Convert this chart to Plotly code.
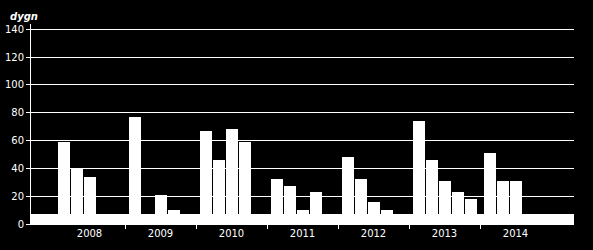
import plotly.graph_objects as go

# ---- data ----
years = [2008, 2009, 2010, 2011, 2012, 2013, 2014]
# values per year, up to 5 periods per year (None = no bar)
values = [
    [59, 40, 34, None, None],
    [77, None, 21, 10, None],
    [67, 46, 68, 59, None],
    [32, 27, 10, 23, None],
    [48, 32, 16, 10, None],
    [74, 46, 31, 23, 18],
    [51, 31, 31, None, None],
]
baseline = 7
y_ticks = [0, 20, 40, 60, 80, 100, 120, 140]

# ---- layout constants (pixels per year slot) ----
YEAR_PX = 71.0
SLOT_PX = 13.0
BAR_PX = 12.0
FIRST_OFF_PX = 10.0
PAD = 23.0 / YEAR_PX
x0 = years[0] - PAD
x1 = years[-1] + 1 + PAD

xs, ys = [], []
for yr, vals in zip(years, values):
    for k, v in enumerate(vals):
        if v is None:
            continue
        xs.append(yr + (FIRST_OFF_PX + SLOT_PX * k) / YEAR_PX)
        ys.append(v)

fig = go.Figure()
fig.add_trace(go.Bar(x=[(x0 + x1) / 2], y=[baseline], width=[x1 - x0],
                     marker=dict(color="white", line=dict(width=0)),
                     hoverinfo="skip", showlegend=False))
fig.add_trace(go.Bar(x=xs, y=ys, width=[BAR_PX / YEAR_PX] * len(xs),
                     marker=dict(color="white", line=dict(width=0)),
                     showlegend=False))

font = dict(family="DejaVu Sans", size=10, color="white")
fig.update_layout(
    width=593, height=250,
    margin=dict(l=31, r=19, t=24, b=26),
    paper_bgcolor="black", plot_bgcolor="black",
    font=font, barmode="overlay", bargap=0,
    xaxis=dict(
        range=[x0, x1], showgrid=False, zeroline=False, automargin=False,
        showline=True, linecolor="white", linewidth=1,
        tickmode="array", tickvals=[y + 0.5 for y in years],
        ticktext=[str(y) for y in years], ticks="", ticklen=0,
        tickfont=font,
        minor=dict(tickmode="array", tickvals=years[1:], ticks="outside",
                   ticklen=4, tickcolor="white", tickwidth=1, showgrid=False),
    ),
    yaxis=dict(
        range=[0, 143.8], showgrid=True, gridcolor="white", gridwidth=1,
        zeroline=False, showline=True, linecolor="white", linewidth=1,
        automargin=False,
        tickmode="array", tickvals=y_ticks, ticks="outside", ticklen=4,
        tickcolor="white", tickfont=font,
    ),
    annotations=[dict(text="<b><i>dygn</i></b>", xref="paper", yref="paper",
                      x=-31 / 543, y=1, xanchor="left", yanchor="bottom",
                      xshift=8, yshift=0, showarrow=False,
                      font=dict(family="DejaVu Sans", size=10, color="white"))],
)

fig.write_html("out.html")
